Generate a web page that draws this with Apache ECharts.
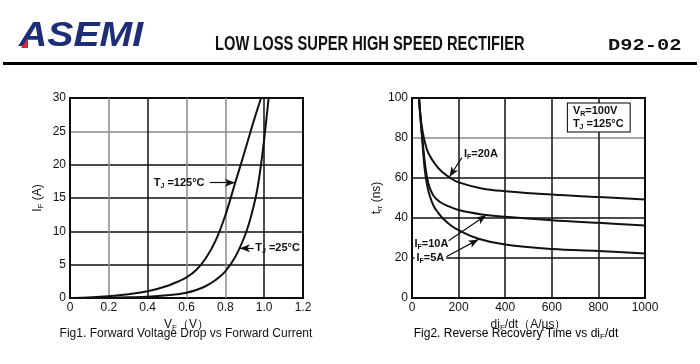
<!DOCTYPE html>
<html><head><meta charset="utf-8">
<script src="https://cdn.jsdelivr.net/npm/echarts@6/dist/echarts.min.js"></script>
<style>html,body{margin:0;padding:0;background:#fff}#c{width:700px;height:364px}</style>
</head><body><div id="c"></div>
<script>
// ---- Fig1: forward voltage drop vs forward current ----
const vfTicks = ['0', '0.2', '0.4', '0.6', '0.8', '1.0', '1.2'];
const ifTicks = ['0', '5', '10', '15', '20', '25', '30'];
const vf125 = [0, 0.1, 0.2, 0.3, 0.4, 0.5, 0.55, 0.6, 0.65, 0.7, 0.75, 0.8, 0.85, 0.9, 0.95, 0.984];
const if125 = [0, 0.08, 0.25, 0.55, 1.0, 1.8, 2.4, 3.1, 4.2, 6.0, 8.6, 12.4, 17.2, 22.0, 26.9, 30];
const vf25 = [0, 0.2, 0.3, 0.4, 0.5, 0.6, 0.65, 0.7, 0.75, 0.8, 0.85, 0.9, 0.93, 0.96, 0.98, 1.0, 1.023];
const if25 = [0, 0.05, 0.1, 0.18, 0.4, 0.8, 1.2, 1.8, 2.7, 4.0, 6.1, 9.3, 12.0, 15.6, 19.2, 23.8, 30];

// ---- Fig2: reverse recovery time vs diF/dt ----
const didtTicks = ['0', '200', '400', '600', '800', '1000'];
const trrTicks = ['0', '20', '40', '60', '80', '100'];
const didt5 = [30, 35, 40, 46, 50, 56, 64, 75, 93, 110, 135, 170, 200, 285, 400, 600, 800, 1000];
const trr5 = [100, 92, 85, 76, 70, 63, 57, 51.5, 46, 43, 39.5, 36, 33.9, 29.6, 26.7, 24.5, 23.5, 22.3];
const didt10 = [30, 35, 40, 46, 52, 58, 65, 75, 93, 120, 150, 200, 300, 400, 600, 800, 1000];
const trr10 = [100, 92, 85, 78, 71, 65, 60, 55.5, 51, 48, 46.2, 44, 41.8, 40.6, 38.9, 37.6, 36.3];
const didt20 = [30, 35, 40, 46, 55, 70, 100, 130, 165, 200, 300, 400, 600, 800, 1000];
const trr20 = [100, 93, 87.5, 83, 78, 72.5, 66.8, 63, 60, 57.8, 54.8, 53.4, 51.7, 50.5, 49.3];

const zip = (xs, ys) => xs.map((x, i) => [x, ys[i]]);
const FONT = 'Liberation Sans';
const BLK = '#111', GRY = '#8a8a8a';

const rich = {
  n: {fontFamily: FONT, fontSize: 11, fontWeight: 'bold', color: BLK, lineHeight: 13},
  s: {fontFamily: FONT, fontSize: 7, fontWeight: 'bold', color: BLK, verticalAlign: 'bottom', lineHeight: 8}
};
const richAxis = {
  n: {fontFamily: FONT, fontSize: 12, color: BLK, lineHeight: 14},
  s: {fontFamily: FONT, fontSize: 8, color: BLK, verticalAlign: 'bottom', lineHeight: 9}
};

function valueAxis(grid, min, max, interval, ticks, colors, name, nameGap) {
  return {
    type: 'value', gridIndex: grid, min, max, interval,
    axisLine: {show: false}, axisTick: {show: false},
    axisLabel: {color: BLK, fontFamily: FONT, fontSize: 12, margin: 4,
      formatter: v => ticks[Math.round((v - min) / interval)]},
    splitLine: {show: true, lineStyle: {color: colors, width: 1.5}},
    name, nameLocation: 'middle', nameGap,
    nameTextStyle: {rich: richAxis}
  };
}

const arrowLine = (data) => ({
  silent: true, symbol: ['none', 'arrow'], symbolSize: [6, 10], animation: false,
  lineStyle: {color: BLK, width: 1.2, type: 'solid'}, label: {show: false},
  emphasis: {disabled: true},
  data: data.map(([a, b]) => [{coord: a}, {coord: b}])
});
const labelPoints = (items) => ({
  silent: true, symbol: 'circle', symbolSize: 1, animation: false,
  itemStyle: {color: 'rgba(0,0,0,0)'},
  label: {show: true, position: 'inside', rich},
  data: items.map(it => Object.assign({coord: it.c, label: Object.assign({formatter: it.t}, it.l || {})}))
});

function curve(xi, yi, d, extra) {
  return Object.assign({
    type: 'line', xAxisIndex: xi, yAxisIndex: yi, data: d, showSymbol: false,
    smooth: 0.4, silent: true, animation: false,
    lineStyle: {color: BLK, width: 2}
  }, extra || {});
}

const option = {
  animation: false,
  backgroundColor: '#fff',
  grid: [
    {left: 70, right: 397, top: 98, bottom: 66, show: true, borderColor: '#000', borderWidth: 2},
    {left: 412, right: 55, top: 98, bottom: 66, show: true, borderColor: '#000', borderWidth: 2}
  ],
  xAxis: [
    valueAxis(0, 0, 1.2, 0.2, vfTicks, [BLK, GRY, BLK, GRY, GRY, BLK, BLK], '{n|V}{s|F}{n|（V）}', 11),
    valueAxis(1, 0, 1000, 200, didtTicks, [BLK, BLK, BLK, BLK, BLK, BLK], '{n|di}{s|F}{n|/dt（A/μs）}', 11)
  ],
  yAxis: [
    valueAxis(0, 0, 30, 5, ifTicks, [BLK, BLK, BLK, BLK, BLK, GRY, BLK], '{n|I}{s|F}{n| (A)}', 25),
    valueAxis(1, 0, 100, 20, trrTicks, [BLK, BLK, BLK, BLK, GRY, BLK], '{n|t}{s|rr}{n| (ns)}', 27)
  ],
  series: [
    curve(0, 0, zip(vf125, if125), {
      markLine: arrowLine([[[0.72, 17.3], [0.849, 17.3]]]),
      markPoint: labelPoints([{c: [0.562, 17.3], t: '{n|T}{s|J}{n| =125°C}'}])
    }),
    curve(0, 0, zip(vf25, if25), {
      markLine: arrowLine([[[0.946, 7.45], [0.875, 7.45]]]),
      markPoint: labelPoints([{c: [1.069, 7.45], t: '{n|T}{s|J}{n| =25°C}'}])
    }),
    curve(1, 1, zip(didt20, trr20), {
      markLine: arrowLine([[[214, 70.2], [161, 60.6]]]),
      markPoint: labelPoints([
        {c: [296, 71.9], t: '{n|I}{s|F}{n|=20A}'},
        {c: [669, 90.2], t: '{n|V}{s|R}{n|=100V}\n{n|T}{s|J}{n| =125°C}',
         l: {borderColor: '#000', borderWidth: 1, padding: [1, 6, 1, 5], backgroundColor: '#fff', align: 'left'}}
      ])
    }),
    curve(1, 1, zip(didt10, trr10), {
      markLine: arrowLine([[[157, 28.6], [318, 41.4]]]),
      markPoint: labelPoints([{c: [83.4, 26.8], t: '{n|I}{s|F}{n|=10A}'}])
    }),
    curve(1, 1, zip(didt5, trr5), {
      markLine: arrowLine([[[147, 20.6], [285, 29.3]]]),
      markPoint: labelPoints([{c: [79, 20.1], t: '{n|I}{s|F}{n|=5A}', l: {backgroundColor: '#fff', padding: [0, 2]}}])
    })
  ],
  graphic: [
    {type: 'text', x: 19, y: 36, scaleX: 1.12, style: {text: 'ASEMI', fill: '#1d2d78',
      font: 'italic bold 35px "Liberation Sans"', textAlign: 'left', align: 'left', textVerticalAlign: 'middle', verticalAlign: 'middle'}},
    {type: 'polygon', shape: {points: [[21, 48], [28, 48], [28, 38]]}, style: {fill: '#d8262d'}},
    {type: 'text', x: 215, y: 44.5, scaleX: 0.70, style: {text: 'LOW LOSS SUPER HIGH SPEED RECTIFIER', fill: '#111',
      font: 'bold 21px "Liberation Sans"', textAlign: 'left', align: 'left', textVerticalAlign: 'middle', verticalAlign: 'middle'}},
    {type: 'text', x: 608, y: 46, scaleX: 1.2, style: {text: 'D92-02', fill: '#111',
      font: 'bold 17px "Liberation Mono"', textAlign: 'left', align: 'left', textVerticalAlign: 'middle', verticalAlign: 'middle'}},
    {type: 'rect', shape: {x: 3, y: 62, width: 694, height: 3}, style: {fill: '#000'}},
    {type: 'text', x: 186, y: 334, style: {text: 'Fig1. Forward Voltage Drop vs Forward Current', fill: '#111',
      font: '12px "Liberation Sans"', textAlign: 'center', align: 'center', textVerticalAlign: 'middle', verticalAlign: 'middle'}},
    {type: 'text', x: 516, y: 334, style: {text: '{n|Fig2. Reverse Recovery Time vs di}{s|F}{n|/dt}', rich: richAxis,
      textAlign: 'center', align: 'center', textVerticalAlign: 'middle', verticalAlign: 'middle'}}
  ]
};
const chart = echarts.init(document.getElementById('c'), null, {renderer: 'canvas'});
chart.setOption(option);
</script>
</body></html>
